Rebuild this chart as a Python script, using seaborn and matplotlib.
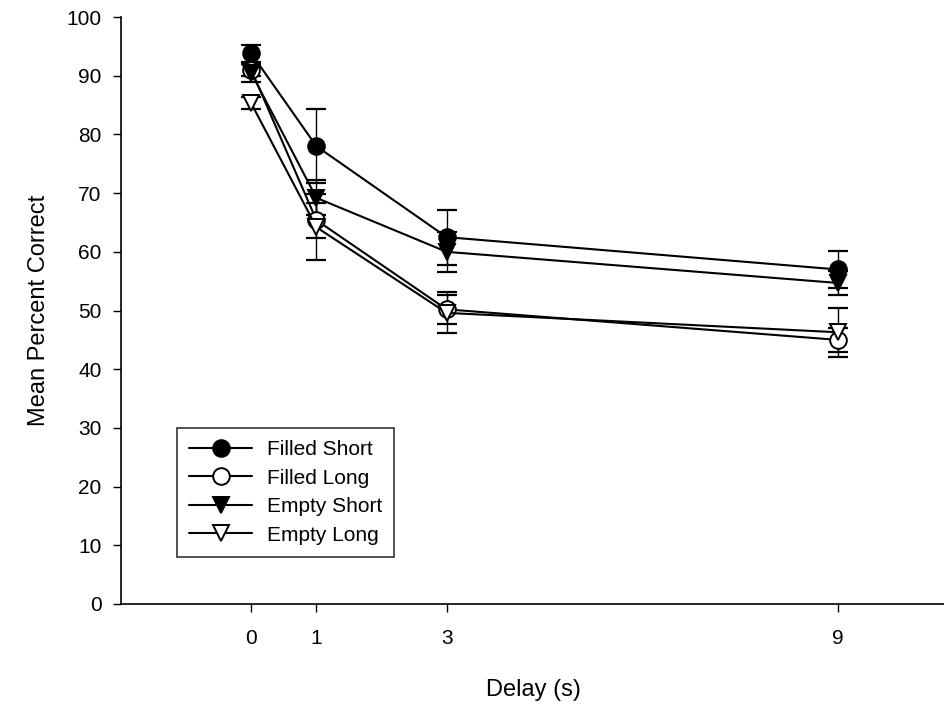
"""
Mean percent correct by delay - filled/empty x short/long
"""
import matplotlib
matplotlib.use('Agg')
import matplotlib.pyplot as plt
import seaborn as sns
import pandas as pd

sns.set_style("white")
plt.rcParams['font.family'] = ['Liberation Sans', 'DejaVu Sans']
plt.rcParams['text.color'] = 'black'
plt.rcParams['axes.labelcolor'] = 'black'

# Veriler
delays = [0, 1, 3, 9]
series_names = ['Filled Short', 'Filled Long', 'Empty Short', 'Empty Long']
filled_short = [93.8, 78.0, 62.5, 57.0]
filled_short_err = [1.5, 6.3, 4.7, 3.2]
filled_long = [91.0, 65.4, 50.2, 45.0]
filled_long_err = [1.0, 3.0, 2.5, 2.0]
empty_short = [90.5, 69.2, 60.0, 54.7]
empty_short_err = [1.5, 3.0, 3.4, 2.0]
empty_long = [85.3, 64.2, 49.6, 46.3]
empty_long_err = [1.0, 5.6, 3.5, 4.2]

means = [filled_short, filled_long, empty_short, empty_long]
errs = [filled_short_err, filled_long_err, empty_short_err, empty_long_err]
markers = ['o', 'o', 'v', 'v']
faces = ['black', 'white', 'black', 'white']
draw_order = [1, 3, 2, 0]  # dolu işaretler üstte kalsın

fig = plt.figure(figsize=(9.45, 7.11), dpi=100)
ax = fig.add_axes([0.128, 0.1505, 0.872, 0.8255])

handles = {}
for k, i in enumerate(draw_order):
    df = pd.DataFrame({'delay': delays, 'pct': means[i]})
    ax.errorbar(delays, means[i], yerr=errs[i], fmt='none', ecolor='black',
                elinewidth=1.0, capsize=7, capthick=1.6, zorder=2)
    sns.lineplot(data=df, x='delay', y='pct', ax=ax, color='black', linewidth=1.5,
                 marker=markers[i], markersize=12, markerfacecolor=faces[i],
                 markeredgecolor='black', markeredgewidth=1.4,
                 label=series_names[i], zorder=3 + k)
    handles[series_names[i]] = ax.lines[-1]

ax.set_xlim(-2.0, 10.65)
ax.set_ylim(0, 100)
ax.set_xticks(delays)
ax.set_yticks(range(0, 101, 10))
ax.tick_params(axis='both', direction='out', length=6, width=1, labelsize=15,
               colors='black', bottom=True, left=True)
ax.tick_params(axis='y', pad=8)
ax.tick_params(axis='x', pad=12)
for s in ['top', 'right']:
    ax.spines[s].set_visible(False)
for s in ['left', 'bottom']:
    ax.spines[s].set_color('black')
    ax.spines[s].set_linewidth(1.2)

ax.set_xlabel('Delay (s)', fontsize=17, labelpad=22)
ax.set_ylabel('Mean Percent Correct', fontsize=17, labelpad=12)

leg = ax.legend([handles[n] for n in series_names], series_names,
                loc='lower left', bbox_to_anchor=(0.068, 0.08), fontsize=15,
                frameon=True, fancybox=False, edgecolor='black', borderpad=0.6,
                handlelength=3.0, handletextpad=0.7, labelspacing=0.45,
                borderaxespad=0)
leg.get_frame().set_linewidth(1.2)

plt.savefig('out.png', dpi=100)
plt.close()
